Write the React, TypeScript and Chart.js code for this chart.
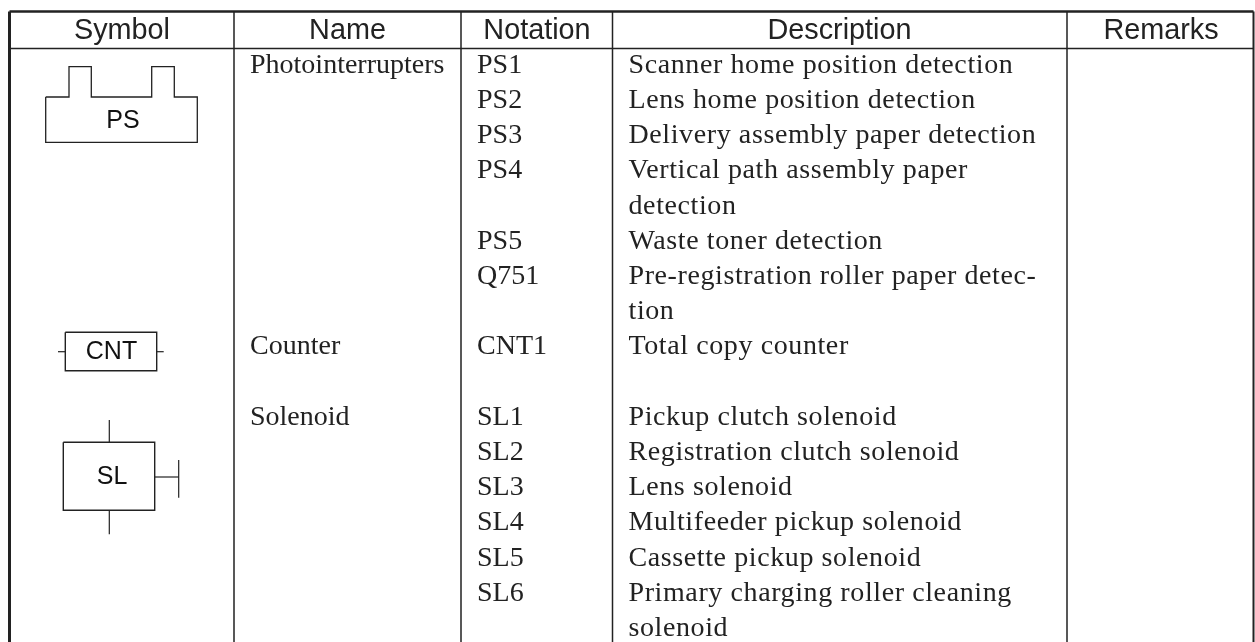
import React, { useEffect, useRef } from "react";
import { Chart, registerables } from "chart.js";

Chart.register(...registerables);

// Table content
const headers = ["Symbol", "Name", "Notation", "Description", "Remarks"];
const names: [number, string][] = [
  [0, "Photointerrupters"],
  [8, "Counter"],
  [10, "Solenoid"],
];
const notations: [number, string][] = [
  [0, "PS1"], [1, "PS2"], [2, "PS3"], [3, "PS4"], [5, "PS5"], [6, "Q751"],
  [8, "CNT1"], [10, "SL1"], [11, "SL2"], [12, "SL3"], [13, "SL4"], [14, "SL5"], [15, "SL6"],
];
const descriptions: [number, string][] = [
  [0, "Scanner home position detection"],
  [1, "Lens home position detection"],
  [2, "Delivery assembly paper detection"],
  [3, "Vertical path assembly paper"],
  [4, "detection"],
  [5, "Waste toner detection"],
  [6, "Pre-registration roller paper detec-"],
  [7, "tion"],
  [8, "Total copy counter"],
  [10, "Pickup clutch solenoid"],
  [11, "Registration clutch solenoid"],
  [12, "Lens solenoid"],
  [13, "Multifeeder pickup solenoid"],
  [14, "Cassette pickup solenoid"],
  [15, "Primary charging roller cleaning"],
  [16, "solenoid"],
];

// Grid and symbol geometry, in the axis units of the chart
const columnRules = [234, 461, 612.5, 1067];
const outerLeft = 9.5;
const outerRight = 1253.5;
const topRule = 11.5;
const headerRule = 48.5;
const bottomEdge = 642;
const psOutline = [
  [45.7, 97], [69, 97], [69, 66.7], [91.3, 66.7], [91.3, 97], [151.7, 97], [151.7, 66.7],
  [174.3, 66.7], [174.3, 97], [197.3, 97], [197.3, 142.3], [45.7, 142.3], [45.7, 97],
];
const cntBox = [[65.3, 332.3], [156.7, 332.3], [156.7, 370.7], [65.3, 370.7], [65.3, 332.3]];
const cntStubLeft = [[58, 351.7], [65.3, 351.7]];
const cntStubRight = [[156.7, 351.7], [163.7, 351.7]];
const slBox = [[63.3, 442.3], [154.7, 442.3], [154.7, 510.3], [63.3, 510.3], [63.3, 442.3]];
const slStubTop = [[109.3, 420], [109.3, 442.3]];
const slStubBottom = [[109.3, 510.3], [109.3, 534.3]];
const slStubSide = [[154.7, 477], [178.7, 477]];
const slBar = [[178.7, 460], [178.7, 497.7]];
const symbolLabels: [string, number, number][] = [
  ["PS", 123, 121],
  ["CNT", 111.5, 352],
  ["SL", 112, 477],
];

const INK = "#222222";
const toPts = (a: number[][]) => a.map(([x, y]) => ({ x, y }));
const line = (a: number[][], w: number, color = INK) => ({
  data: toPts(a),
  showLine: true,
  borderColor: color,
  borderWidth: w,
  pointRadius: 0,
  fill: false,
  tension: 0,
});

const tablePlugin = {
  id: "tableText",
  afterDatasetsDraw(chart: any) {
    const { ctx, scales } = chart;
    const X = (v: number) => scales.x.getPixelForValue(v);
    const Y = (v: number) => scales.y.getPixelForValue(v);
    const serif = '28px "Liberation Serif"';
    const sans = '28.8px "Liberation Sans"';
    ctx.save();
    ctx.fillStyle = "#222222";
    ctx.textBaseline = "alphabetic";
    // headers
    ctx.font = sans;
    ctx.textAlign = "center";
    const heads = [122, 347.5, 537, 839.5, 1161];
    headers.forEach((h, i) => ctx.fillText(h, X(heads[i]), Y(38.5)));
    // body
    ctx.textAlign = "left";
    ctx.font = serif;
    const base = (l: number) => Y(72.8 + l * 35.2);
    names.forEach(([l, t]) => ctx.fillText(t, X(250), base(l)));
    notations.forEach(([l, t]) => ctx.fillText(t, X(477), base(l)));
    (ctx as any).letterSpacing = "0.6px";
    descriptions.forEach(([l, t]) => ctx.fillText(t, X(628.5), base(l)));
    (ctx as any).letterSpacing = "0px";
    // symbol labels
    ctx.textAlign = "center";
    ctx.textBaseline = "middle";
    ctx.fillStyle = "#111111";
    ctx.font = '25px "Liberation Sans"';
    symbolLabels.forEach(([t, x, y]) => ctx.fillText(t, X(x), Y(y)));
    ctx.restore();
  },
};

export default function App() {
  const ref = useRef<HTMLCanvasElement>(null);
  useEffect(() => {
    const chart = new Chart(ref.current!, {
      type: "scatter",
      data: {
        datasets: [
          line([[outerLeft, topRule], [outerLeft, bottomEdge]], 3),
          line([[outerRight, topRule], [outerRight, bottomEdge]], 2),
          line([[outerLeft, topRule], [outerRight, topRule]], 2.4),
          line([[outerLeft, headerRule], [outerRight, headerRule]], 1.5),
          ...columnRules.map((x) => line([[x, topRule], [x, bottomEdge]], 1.5)),
          line(psOutline, 1.3),
          line(cntBox, 1.4),
          line(cntStubLeft, 1.2),
          line(cntStubRight, 1.2),
          line(slBox, 1.4),
          line(slStubTop, 1.2),
          line(slStubBottom, 1.2),
          line(slStubSide, 1.2),
          line(slBar, 1.2),
        ] as any,
      },
      options: {
        animation: false,
        responsive: false,
        layout: { padding: 0 },
        plugins: { legend: { display: false }, tooltip: { enabled: false }, title: { display: false } },
        scales: {
          x: { type: "linear", min: 0, max: 1255, display: false },
          y: { type: "linear", min: 0, max: 642, reverse: true, display: false },
        },
      },
      plugins: [tablePlugin],
    });
    return () => chart.destroy();
  }, []);
  return (
    <div style={{ position: "fixed", left: 0, top: 0, width: 1255, height: 642, background: "#fff" }}>
      <canvas ref={ref} width={1255} height={642} style={{ display: "block" }} />
    </div>
  );
}
